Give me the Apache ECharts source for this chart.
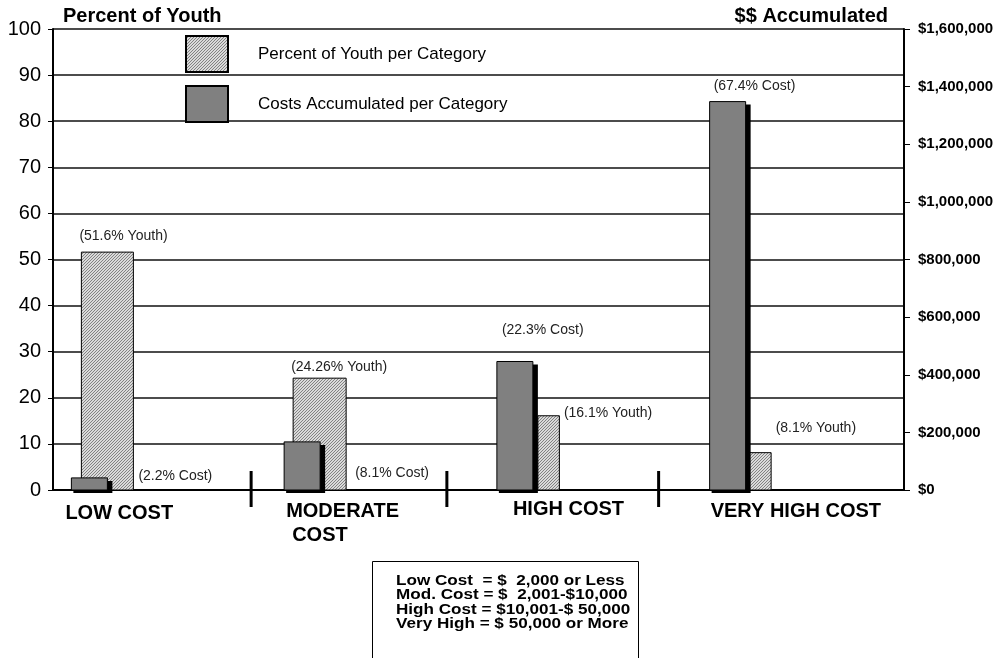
<!DOCTYPE html>
<html>
<head>
<meta charset="utf-8">
<script src="https://cdn.jsdelivr.net/npm/echarts@6/dist/echarts.min.js"></script>
<style>
  html, body { margin: 0; padding: 0; background: #fff; }
  #chartBox { width: 1005px; height: 658px; }
</style>
</head>
<body>
<div id="chartBox"></div>
<script>
// data
const categories = ['LOW COST', 'MODERATE\nCOST', 'HIGH COST', 'VERY HIGH COST'];
const youthPct = [51.6, 24.26, 16.1, 8.1];
const costShare = [2.2, 8.1, 22.3, 67.4];
const costDollars = [42000, 167000, 446000, 1348000];
const costRanges = [
  'Low Cost  = $  2,000 or Less',
  'Mod. Cost = $  2,001-$10,000',
  'High Cost = $10,001-$ 50,000',
  'Very High = $ 50,000 or More'
];

// layout: pixel offsets from each category centre / bar top
const darkBar = { dx: -88, w: 36 };
const hatchBar = [[-78, 52], [-79, 53], [-47, 21.5], [-48.5, 22]];
const youthLabelPos = [[-80, -16], [-81, -11], [-21, -3], [-22, -25]];
const costLabelPos = [[-21, -2], [-17, 31], [-83, -31], [-84, -15]];
const catLabelPos = [[-94, 23], [-86, 21], [-72, 19.5], [-87, 21]];
const sepPos = [null, -121, -138, -139];

const FONT = '"Liberation Sans", Arial, sans-serif';

// fine diagonal hatch
const hatchCanvas = document.createElement('canvas');
hatchCanvas.width = 3;
hatchCanvas.height = 3;
const hctx = hatchCanvas.getContext('2d');
const img = hctx.createImageData(3, 3);
for (let y = 0; y < 3; y++) {
  for (let x = 0; x < 3; x++) {
    const k = (y * 3 + x) * 4;
    const c = (x + y) % 3 === 2 ? 130 : 218;
    img.data[k] = c; img.data[k + 1] = c; img.data[k + 2] = c; img.data[k + 3] = 255;
  }
}
hctx.putImageData(img, 0, 0);
const hatch = { image: hatchCanvas, repeat: 'repeat' };

const chartDom = document.getElementById('chartBox');
const myChart = echarts.init(chartDom);

const option = {
  animation: false,
  legend: {
    orient: 'vertical',
    left: 185,
    top: 35,
    padding: 0,
    itemWidth: 42,
    itemHeight: 36,
    itemGap: 12,
    icon: 'rect',
    data: ['Percent of Youth per Category', 'Costs Accumulated per Category'],
    textStyle: { fontSize: 17, color: '#000', fontFamily: FONT, padding: [2, 0, 0, 25] }
  },
  grid: { left: 53, right: 101, top: 29, bottom: 168 },
  xAxis: {
    type: 'category',
    data: categories,
    axisLine: { lineStyle: { color: '#000', width: 2 } },
    axisTick: { show: false },
    axisLabel: { show: false },
    splitLine: { show: false }
  },
  yAxis: [
    {
      type: 'value',
      min: 0,
      max: 100,
      interval: 10,
      name: 'Percent of Youth',
      nameLocation: 'end',
      nameGap: 3,
      nameTextStyle: { align: 'left', padding: [0, 0, 0, 10], fontSize: 20, fontWeight: 'bold', color: '#000', fontFamily: FONT },
      axisLine: { show: true, lineStyle: { color: '#000', width: 2 } },
      axisTick: { show: true, length: 5, lineStyle: { color: '#000' } },
      axisLabel: { fontSize: 20, color: '#000', margin: 12, fontFamily: FONT },
      splitLine: { lineStyle: { color: '#111', width: 1.5 } }
    },
    {
      type: 'value',
      position: 'right',
      min: 0,
      max: 1600000,
      interval: 200000,
      name: '$$ Accumulated',
      nameLocation: 'end',
      nameGap: 3,
      nameTextStyle: { align: 'right', padding: [0, 16, 0, 0], fontSize: 20, fontWeight: 'bold', color: '#000', fontFamily: FONT },
      axisLine: { show: true, lineStyle: { color: '#000', width: 2 } },
      axisTick: { show: true, length: 6, lineStyle: { color: '#000' } },
      axisLabel: {
        fontSize: 15, fontWeight: 'bold', color: '#000', margin: 14, fontFamily: FONT,
        formatter: function (v) { return '$' + echarts.format.addCommas(v); }
      },
      splitLine: { show: false }
    }
  ],
  series: [
    {
      name: 'Percent of Youth per Category',
      type: 'custom',
      yAxisIndex: 0,
      itemStyle: { color: hatch, borderColor: '#000', borderWidth: 1 },
      data: youthPct.map(function (v, i) { return [i, v]; }),
      encode: { x: 0, y: 1 },
      renderItem: function (params, api) {
        const i = api.value(0);
        const top = api.coord([i, api.value(1)]);
        const base = api.coord([i, 0]);
        const x = top[0] + hatchBar[i][0];
        return {
          type: 'group',
          children: [
            {
              type: 'rect',
              shape: { x: x, y: top[1], width: hatchBar[i][1], height: base[1] - top[1] },
              style: { fill: hatch, stroke: '#000', lineWidth: 1 }
            },
            {
              type: 'text',
              style: {
                text: '(' + youthPct[i] + '% Youth)',
                x: top[0] + youthLabelPos[i][0],
                y: top[1] + youthLabelPos[i][1],
                fill: '#222', font: '14px ' + FONT, verticalAlign: 'middle'
              }
            }
          ]
        };
      }
    },
    {
      name: 'Costs Accumulated per Category',
      type: 'custom',
      yAxisIndex: 1,
      itemStyle: { color: '#808080', borderColor: '#000', borderWidth: 1 },
      data: costDollars.map(function (v, i) { return [i, v]; }),
      encode: { x: 0, y: 1 },
      renderItem: function (params, api) {
        const i = api.value(0);
        const top = api.coord([i, api.value(1)]);
        const base = api.coord([i, 0]);
        const x = top[0] + darkBar.dx;
        const h = base[1] - top[1];
        return {
          type: 'group',
          children: [
            {
              type: 'rect',
              shape: { x: x + 2, y: top[1] + 3, width: darkBar.w + 3, height: h },
              style: { fill: '#000' }
            },
            {
              type: 'rect',
              shape: { x: x, y: top[1], width: darkBar.w, height: h },
              style: { fill: '#808080', stroke: '#000', lineWidth: 1 }
            },
            {
              type: 'text',
              style: {
                text: '(' + costShare[i] + '% Cost)',
                x: top[0] + costLabelPos[i][0],
                y: top[1] + costLabelPos[i][1],
                fill: '#222', font: '14px ' + FONT, verticalAlign: 'middle'
              }
            }
          ]
        };
      }
    },
    {
      name: 'categoryLabels',
      type: 'custom',
      yAxisIndex: 0,
      silent: true,
      data: categories.map(function (c, i) { return [i, 0]; }),
      encode: { x: 0, y: 1 },
      renderItem: function (params, api) {
        const i = api.value(0);
        const base = api.coord([i, 0]);
        const children = [];
        const lines = categories[i].split('\n');
        lines.forEach(function (line, k) {
          children.push({
            type: 'text',
            style: {
              text: line,
              x: base[0] + catLabelPos[i][0] + (k > 0 ? 6 : 0),
              y: base[1] + catLabelPos[i][1] + k * 24.3,
              fill: '#000', font: 'bold 20px ' + FONT, verticalAlign: 'middle'
            }
          });
        });
        if (sepPos[i] !== null) {
          children.push({
            type: 'rect',
            shape: { x: base[0] + sepPos[i] - 1.5, y: base[1] - 19, width: 3, height: 36 },
            style: { fill: '#000' }
          });
        }
        return { type: 'group', children: children };
      }
    }
  ],
  graphic: [
    {
      type: 'group',
      left: 372,
      top: 561,
      children: [
        {
          type: 'rect',
          shape: { x: 0, y: 0, width: 266, height: 110 },
          style: { fill: '#fff', stroke: '#000', lineWidth: 1 }
        },
        {
          type: 'text',
          x: 23.5,
          y: 12,
          scaleX: 1.14,
          style: {
            text: costRanges.join('\n'),
            font: 'bold 15px ' + FONT,
            lineHeight: 14.5,
            fill: '#000'
          }
        }
      ]
    }
  ]
};

myChart.setOption(option);
</script>
</body>
</html>
